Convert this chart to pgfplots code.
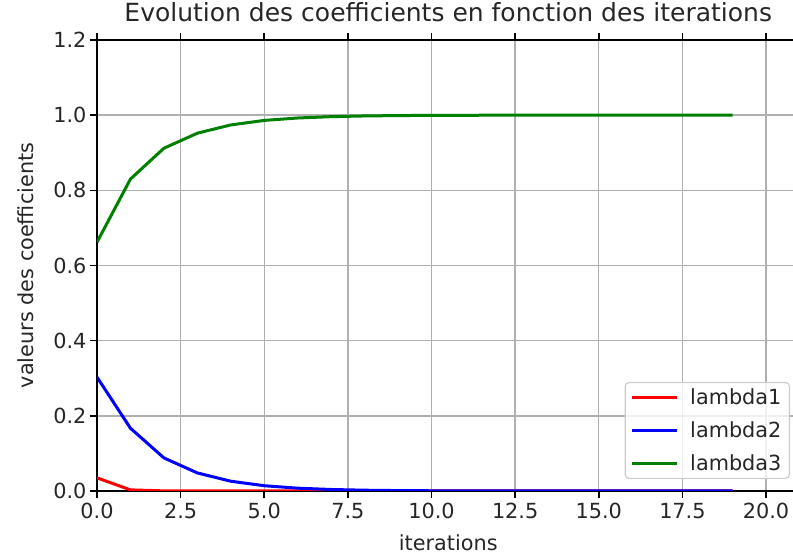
\documentclass[border=0pt]{standalone}
\usepackage{pgfplots}
\pgfplotsset{compat=1.18}
\usepackage{fontspec}
\setmainfont{DejaVu Sans}
\definecolor{mplgreen}{RGB}{0,128,0}
\definecolor{gridgray}{RGB}{176,176,176}
\definecolor{legedge}{RGB}{204,204,204}
\begin{document}
\begin{tikzpicture}
\useasboundingbox (0pt,0pt) rectangle (793pt,556pt);
\begin{axis}[
  at={(97pt,65pt)}, anchor=south west,
  scale only axis, width=702.5pt, height=451pt,
  xmin=0, xmax=21, ymin=0, ymax=1.2,
  xtick={0,2.5,5,7.5,10,12.5,15,17.5,20},
  ytick={0,0.2,0.4,0.6,0.8,1.0,1.2},
  xticklabel style={yshift=-2pt, /pgf/number format/.cd, fixed, fixed zerofill, precision=1},
  yticklabel style={/pgf/number format/.cd, fixed, fixed zerofill, precision=1},
  /pgf/number format/assume math mode=true,
  tick label style={font=\fontsize{20.8}{25}\selectfont, text=black!85},
  label style={font=\fontsize{20.8}{25}\selectfont, text=black!85},
  title style={font=\fontsize{25}{30}\selectfont, text=black!85, at={(0.5,1)}, anchor=base, yshift=12pt},
  title={Evolution des coefficients en fonction des iterations},
  xlabel={iterations},
  ylabel={valeurs des coefficients},
  xlabel style={at={(axis description cs:0.5,0)}, anchor=base, yshift=-60pt},
  ylabel style={at={(axis description cs:-0.0911,0.5)}, anchor=base},
  tick align=outside, major tick length=7pt,
  tick style={line width=1.6pt, black},
  axis line style={line width=1.6pt, black},
  grid=major, grid style={gridgray, line width=1.4pt},
  legend style={at={(1,0)}, anchor=south east, xshift=-9.5pt, yshift=12pt,
    draw=legedge, line width=1.2pt, rounded corners=4pt, fill=white, fill opacity=0.8, text opacity=1,
    font=\fontsize{20.8}{25}\selectfont, text=black!85,
    inner xsep=5pt, inner ysep=3pt, row sep=10pt,
    nodes={inner sep=3pt},
    /tikz/every odd column/.append style={column sep=9pt}},
  legend cell align=left,
  legend image code/.code={\draw[#1, line width=3pt] (0pt,0pt) -- (45pt,0pt);},
]
\addplot[red, line width=3pt] coordinates {
(0,0.035) (1,0.003) (2,0.0003) (3,0.00003) (4,0) (5,0) (6,0) (7,0) (8,0) (9,0)
(10,0) (11,0) (12,0) (13,0) (14,0) (15,0) (16,0) (17,0) (18,0) (19,0)};
\addlegendentry{lambda1}
\addplot[blue, line width=3pt] coordinates {
(0,0.303) (1,0.167) (2,0.088) (3,0.048) (4,0.026) (5,0.014) (6,0.0075) (7,0.004) (8,0.0021) (9,0.0011)
(10,0.0006) (11,0.0003) (12,0.00016) (13,0.00008) (14,0.00004) (15,0.00002) (16,0.00001) (17,0) (18,0) (19,0)};
\addlegendentry{lambda2}
\addplot[mplgreen, line width=3pt] coordinates {
(0,0.662) (1,0.830) (2,0.912) (3,0.952) (4,0.974) (5,0.986) (6,0.9925) (7,0.996) (8,0.9979) (9,0.9989)
(10,0.9994) (11,0.9997) (12,0.99984) (13,0.99992) (14,0.99996) (15,0.99998) (16,0.99999) (17,1) (18,1) (19,1)};
\addlegendentry{lambda3}
\end{axis}
\end{tikzpicture}
\end{document}
